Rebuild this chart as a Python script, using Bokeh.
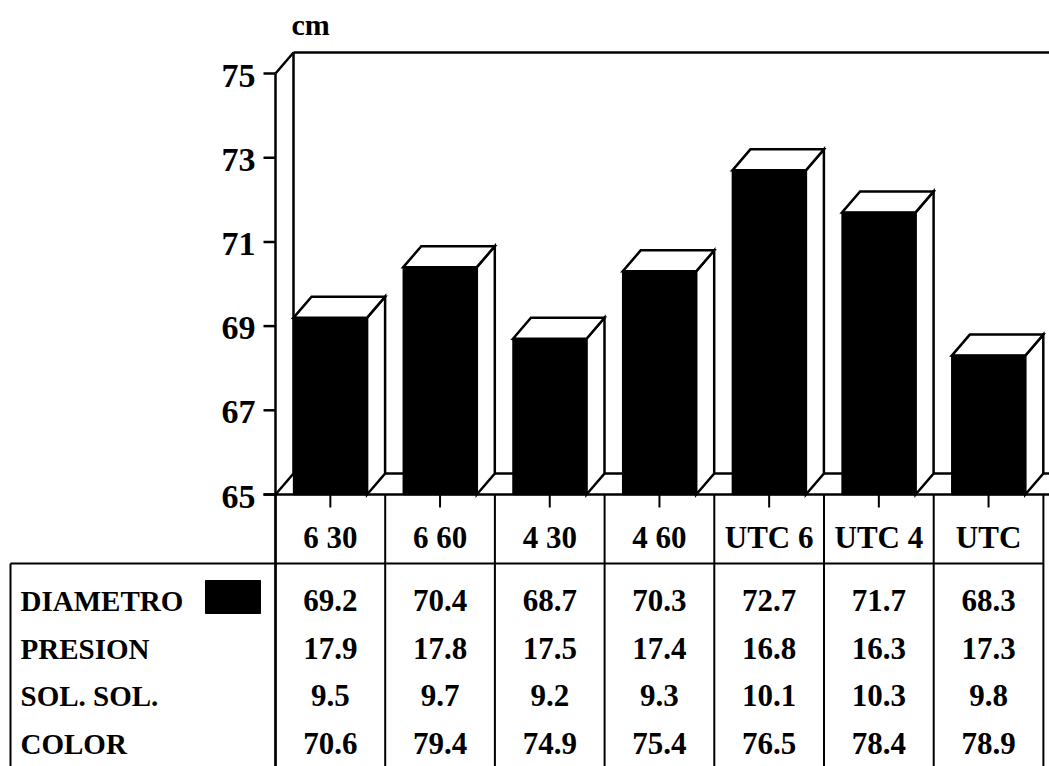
from bokeh.plotting import figure
from bokeh.models import Range1d
from bokeh.core.properties import value
from bokeh.embed import file_html
from bokeh.resources import INLINE

# ---- data ----
categories = ["6 30", "6 60", "4 30", "4 60", "UTC 6", "UTC 4", "UTC"]
diametro = [69.2, 70.4, 68.7, 70.3, 72.7, 71.7, 68.3]
presion = [17.9, 17.8, 17.5, 17.4, 16.8, 16.3, 17.3]
sol_sol = [9.5, 9.7, 9.2, 9.3, 10.1, 10.3, 9.8]
color = [70.6, 79.4, 74.9, 75.4, 76.5, 78.4, 78.9]
row_labels = ["DIAMETRO", "PRESION", "SOL. SOL.", "COLOR"]
y_ticks = [65, 67, 69, 71, 73, 75]
unit_label = "cm"

# ---- layout (pixels) ----
W, H = 1049, 766
AXIS_PX = 275          # screen x of the front value axis
CAT_PX = 109.7         # width of one category column
BASE_PX = 494          # screen y of the chart floor
CM_PX = 42.1           # pixels per cm
DEPTH_X_PX, DEPTH_Y_PX = 18, 21

FONT = value("Liberation Serif")
INK = "black"

base = y_ticks[0]
top = y_ticks[-1]
n = len(categories)

x_range = Range1d(-AXIS_PX / CAT_PX, (W - AXIS_PX) / CAT_PX)
y_range = Range1d(base - (H - BASE_PX) / CM_PX, base + BASE_PX / CM_PX)

p = figure(width=W, height=H, x_range=x_range, y_range=y_range,
           x_axis_type=None, y_axis_type=None, toolbar_location=None,
           output_backend="svg", min_border=0, outline_line_color=None,
           background_fill_color="white", border_fill_color="white")
p.grid.visible = False

def px_x(d):
    return d / CAT_PX

def px_y(d):
    return d / CM_PX

DX = px_x(DEPTH_X_PX)
DY = px_y(DEPTH_Y_PX)
LW = 2.5
right_end = x_range.end + 1

# ---- back wall and floor ----
p.segment(x0=[DX, DX, 0, 0, DX], y0=[base + DY, top + DY, top, base, base + DY],
          x1=[DX, right_end, DX, DX, right_end], y1=[top + DY, top + DY, top + DY, base + DY, base + DY],
          line_color=INK, line_width=LW)

# front value axis, running down through the table
p.segment(x0=[0], y0=[top], x1=[0], y1=[y_range.start], line_color=INK, line_width=LW)
# floor front edge
p.segment(x0=[-px_x(12)], y0=[base], x1=[right_end], y1=[base], line_color=INK, line_width=LW)

# value ticks and labels
p.segment(x0=[-px_x(12)] * len(y_ticks), y0=y_ticks, x1=[0] * len(y_ticks), y1=y_ticks,
          line_color=INK, line_width=LW)
p.text(x=[-px_x(20)] * len(y_ticks), y=[t - px_y(2) for t in y_ticks],
       text=[str(t) for t in y_ticks], text_align="right", text_baseline="middle",
       text_font=FONT, text_font_style="bold", text_font_size="34px", text_color=INK)
p.text(x=[px_x(16)], y=[top + px_y(49)], text=[unit_label], text_align="left",
       text_baseline="middle", text_font=FONT, text_font_style="bold",
       text_font_size="30px", text_color=INK)

# ---- 3D bars ----
half = 0.335
lefts = [i + 0.5 - half for i in range(n)]
rights = [i + 0.5 + half for i in range(n)]
side_xs = [[r, r + DX, r + DX, r] for r in rights]
side_ys = [[base, base + DY, v + DY, v] for v in diametro]
top_xs = [[l, l + DX, r + DX, r] for l, r in zip(lefts, rights)]
top_ys = [[v, v + DY, v + DY, v] for v in diametro]
p.patches(xs=side_xs, ys=side_ys, fill_color="white", line_color=INK, line_width=LW,
          line_join="miter")
p.patches(xs=top_xs, ys=top_ys, fill_color="white", line_color=INK, line_width=LW,
          line_join="miter")
p.quad(left=lefts, right=rights, bottom=[base] * n, top=diametro,
       fill_color=INK, line_color=INK, line_width=1.5)

# category ticks
centers = [i + 0.5 for i in range(n)]
p.segment(x0=centers, y0=[base] * n, x1=centers, y1=[base - px_y(13)] * n,
          line_color=INK, line_width=2)

# ---- data table ----
header_y = base - px_y(43)
header_line_y = base - px_y(69)
row_y = [base - px_y(d) for d in (106, 154, 201, 249)]
table_left = -px_x(AXIS_PX - 10)

p.segment(x0=list(range(n + 1)), y0=[base] * (n + 1), x1=list(range(n + 1)),
          y1=[y_range.start] * (n + 1), line_color=INK, line_width=2)
p.segment(x0=[table_left, table_left], y0=[header_line_y, header_line_y],
          x1=[n, table_left], y1=[header_line_y, y_range.start],
          line_color=INK, line_width=2)

p.text(x=centers, y=[header_y] * n, text=categories, text_align="center",
       text_baseline="middle", text_font=FONT, text_font_style="bold",
       text_font_size="31px", text_color=INK)

p.text(x=[table_left + px_x(10)] * len(row_labels), y=row_y, text=row_labels,
       text_align="left", text_baseline="middle", text_font=FONT,
       text_font_style="bold", text_font_size="29px", text_color=INK)

# legend swatch for the plotted series
p.quad(left=[-px_x(70)], right=[-px_x(15)], top=[row_y[0] + px_y(20)],
       bottom=[row_y[0] - px_y(13)], fill_color=INK, line_color=INK)

for vals, y in zip([diametro, presion, sol_sol, color], row_y):
    p.text(x=centers, y=[y] * n, text=[f"{v:.1f}" for v in vals], text_align="center",
           text_baseline="middle", text_font=FONT, text_font_style="bold",
           text_font_size="31px", text_color=INK)

open("out.html", "w").write(file_html(p, INLINE))
